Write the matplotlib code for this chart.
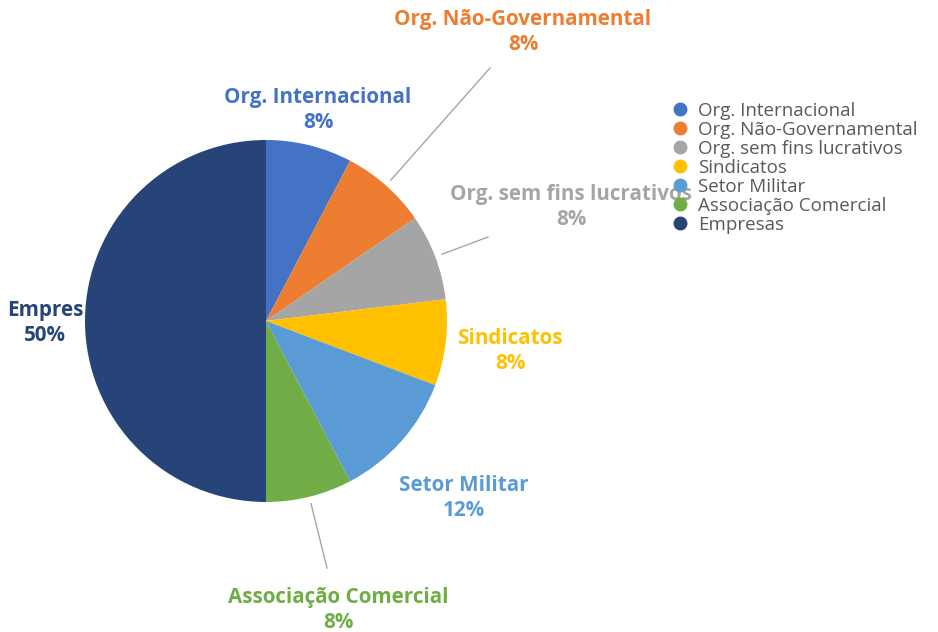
import numpy as np
import matplotlib
matplotlib.use("Agg")
import matplotlib.pyplot as plt
from matplotlib.lines import Line2D

categories = ["Org. Internacional", "Org. Não-Governamental", "Org. sem fins lucrativos",
              "Sindicatos", "Setor Militar", "Associação Comercial", "Empresas"]
values = [1, 1, 1, 1, 1.5, 1, 6.5]
colors = ["#4472C4", "#ED7D31", "#A5A5A5", "#FFC000", "#5B9BD5", "#70AD47", "#264478"]
# Excel cut the last data label short
label_names = ["Org. Internacional", "Org. Não-Governamental", "Org. sem fins lucrativos",
               "Sindicatos", "Setor Militar", "Associação Comercial", "Empres"]

W, H = 938, 632
plt.rcParams["font.family"] = ["Open Sans", "DejaVu Sans"]

fig = plt.figure(figsize=(W / 100, H / 100), dpi=100)
ax = fig.add_axes([0, 0, 1, 1])

cx, cy, r = 266, H - 321, 181
wedges, _ = ax.pie(values, colors=colors, startangle=90, counterclock=False,
                   center=(cx, cy), radius=r, wedgeprops=dict(linewidth=0))
ax.set_xlim(0, W)
ax.set_ylim(0, H)
ax.set_aspect("equal")
ax.axis("off")

total = sum(values)
pcts = [f"{v / total * 100:.0f}%" for v in values]

# label centres in pixel coords (x, y from top), set by hand like the Excel layout
label_pos = [(318, 110), (523, 32), (571, 207), (510, 351), (464, 498), (338, 610), (45, 323)]
# leader line end points for the labels moved away from their slices
leaders = {1: (490, 68), 2: (488, 237), 5: (327, 568)}

for i, (name, p, (x, y)) in enumerate(zip(label_names, pcts, label_pos)):
    ax.text(x, H - y, f"{name}\n{p}", ha="center", va="center", color=colors[i],
            fontsize=14.9, fontweight="bold", linespacing=1.22)
    if i in leaders:
        w = wedges[i]
        ang = np.deg2rad((w.theta1 + w.theta2) / 2)
        x0 = cx + r * 1.04 * np.cos(ang)
        y0 = cy + r * 1.04 * np.sin(ang)
        ex, ey = leaders[i]
        ax.plot([x0, ex], [y0, H - ey], color="#A6A6A6", lw=1)

handles = [Line2D([], [], marker="o", linestyle="", color=c, markersize=9) for c in colors]
fig.legend(handles, categories, loc="upper left", bbox_to_anchor=(671 / W, 1 - 102 / H),
           frameon=False, fontsize=13.5, labelspacing=0.05, handlelength=1.0,
           handletextpad=0.45, borderpad=0, borderaxespad=0, labelcolor="#595959")

fig.savefig("out.png", dpi=100)
